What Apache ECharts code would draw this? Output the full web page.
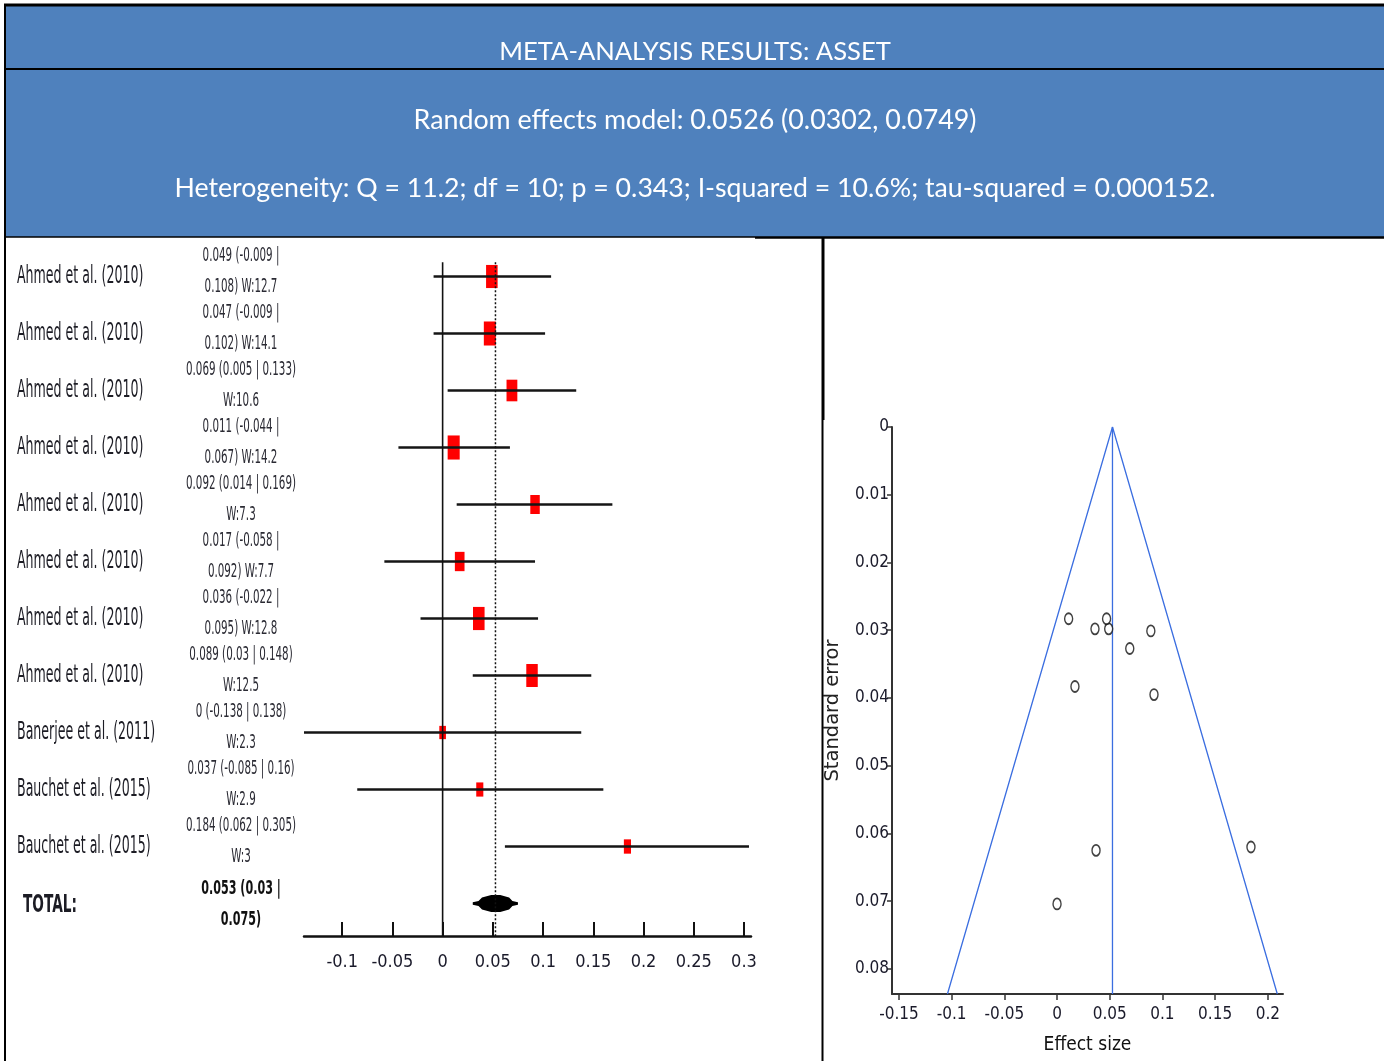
<!DOCTYPE html>
<html>
<head>
<meta charset="utf-8">
<script src="https://cdn.jsdelivr.net/npm/echarts@6/dist/echarts.min.js"></script>
<style>
  html, body { margin: 0; padding: 0; background: #ffffff; }
  #chart { width: 1384px; height: 1061px; }
</style>
</head>
<body>
<div id="chart"></div>
<script>
// ---- Study results (effect size, 95% CI, weight %) ----
const studies = [
  'Ahmed et al. (2010)', 'Ahmed et al. (2010)', 'Ahmed et al. (2010)', 'Ahmed et al. (2010)',
  'Ahmed et al. (2010)', 'Ahmed et al. (2010)', 'Ahmed et al. (2010)', 'Ahmed et al. (2010)',
  'Banerjee et al. (2011)', 'Bauchet et al. (2015)', 'Bauchet et al. (2015)'
];
const effects  = [0.049, 0.047, 0.069, 0.011, 0.092, 0.017, 0.036, 0.089, 0, 0.037, 0.184];
const ciLower  = [-0.009, -0.009, 0.005, -0.044, 0.014, -0.058, -0.022, 0.03, -0.138, -0.085, 0.062];
const ciUpper  = [0.108, 0.102, 0.133, 0.067, 0.169, 0.092, 0.095, 0.148, 0.138, 0.16, 0.305];
const weights  = [12.7, 14.1, 10.6, 14.2, 7.3, 7.7, 12.8, 12.5, 2.3, 2.9, 3];
const stdErrors = [0.0298, 0.0283, 0.0327, 0.0283, 0.0395, 0.0383, 0.0298, 0.0301, 0.0704, 0.0625, 0.0620];

// ---- Pooled (random effects) result ----
const totalLabel = 'TOTAL:';
const totalEffect = 0.053;
const totalLower = 0.03;
const totalUpper = 0.075;
const pooledEffect = 0.0526;

// ---- Funnel outline (effect size, standard error) ----
const funnelEdgeEffects = [-0.104, 0.0526, 0.209];
const funnelEdgeSE = [0.0837, 0, 0.0837];

// ---- Axis ticks ----
const forestTicks = [-0.1, -0.05, 0, 0.05, 0.1, 0.15, 0.2, 0.25, 0.3];
const funnelXTicks = [-0.15, -0.1, -0.05, 0, 0.05, 0.1, 0.15, 0.2];
const funnelYTicks = [0, 0.01, 0.02, 0.03, 0.04, 0.05, 0.06, 0.07, 0.08];

// ---- Header texts ----
const headerTitle = 'META-ANALYSIS RESULTS: ASSET';
const modelText = 'Random effects model: 0.0526 (0.0302, 0.0749)';
const heterogeneityText = 'Heterogeneity: Q = 11.2; df = 10; p = 0.343; I-squared = 10.6%; tau-squared = 0.000152.';

const NARROW = '"DejaVu Sans Condensed", "Liberation Sans Narrow", sans-serif';
const HEADER_FONT = 'Lato, "Open Sans", sans-serif';
const BLUE = '#4f81bd';

// CI text, wrapped the way the plotting tool wraps it
function ciText(es, lo, hi, w) {
  if (w == null) return es + ' (' + lo + ' |\n' + hi + ')';
  const head = es + ' (' + lo + ' | ' + hi + ')';
  return head.length > 21 ? (es + ' (' + lo + ' |\n' + hi + ') W:' + w) : (head + '\nW:' + w);
}

const rowCount = studies.length;           // total row sits after the studies
const rowTop = -0.25, rowBottom = 11.57;

const chart = echarts.init(document.getElementById('chart'), null, { renderer: 'canvas' });

const option = {
  animation: false,
  backgroundColor: '#ffffff',
  graphic: [
    // header band
    { type: 'rect', shape: { x: 5, y: 5, width: 1379, height: 232 }, style: { fill: BLUE } },
    { type: 'line', shape: { x1: 4, y1: 5, x2: 1384, y2: 5 }, style: { stroke: '#000', lineWidth: 3 } },
    { type: 'line', shape: { x1: 5, y1: 69, x2: 1384, y2: 69 }, style: { stroke: '#000', lineWidth: 2 } },
    { type: 'line', shape: { x1: 5, y1: 237, x2: 755, y2: 237 }, style: { stroke: '#000', lineWidth: 1.5 } },
    { type: 'line', shape: { x1: 755, y1: 237.5, x2: 1384, y2: 237.5 }, style: { stroke: '#000', lineWidth: 2.5 } },
    { type: 'line', shape: { x1: 5, y1: 4, x2: 5, y2: 1061 }, style: { stroke: '#000', lineWidth: 2 } },
    { type: 'line', shape: { x1: 823, y1: 237, x2: 823, y2: 420 }, style: { stroke: '#000', lineWidth: 3 } },
    { type: 'line', shape: { x1: 822.5, y1: 420, x2: 822.5, y2: 1061 }, style: { stroke: '#000', lineWidth: 2 } },
    { type: 'text', x: 695, y: 52,
      style: { text: headerTitle, fill: '#fff', font: '25.6px ' + HEADER_FONT, align: 'center', verticalAlign: 'middle' } },
    { type: 'text', x: 695, y: 120,
      style: { text: modelText, fill: '#fff', font: '26.8px ' + HEADER_FONT, align: 'center', verticalAlign: 'middle' } },
    { type: 'text', x: 695, y: 188,
      style: { text: heterogeneityText, fill: '#fff', font: '26.7px ' + HEADER_FONT, align: 'center', verticalAlign: 'middle' } }
  ],
  grid: [
    { left: 304, top: 248, width: 447, height: 688 },
    { left: 892, top: 427, width: 391, height: 567 }
  ],
  xAxis: [
    {
      type: 'value', gridIndex: 0, min: -0.138, max: 0.307,
      axisLine: { show: true, onZero: false, lineStyle: { color: '#111', width: 2.5 } },
      axisTick: { show: true, inside: true, length: 14, customValues: forestTicks, lineStyle: { color: '#111', width: 2 } },
      axisLabel: { customValues: forestTicks, margin: 17, color: '#1a1a2a', fontFamily: NARROW, fontSize: 18 },
      splitLine: { show: false }
    },
    {
      type: 'value', gridIndex: 1, min: -0.1566, max: 0.2144,
      name: 'Effect size', nameLocation: 'middle', nameGap: 42,
      nameTextStyle: { color: '#111', fontFamily: NARROW, fontSize: 19 },
      axisLine: { show: true, onZero: false, lineStyle: { color: '#333', width: 2 } },
      axisTick: { show: true, length: 6, customValues: funnelXTicks, lineStyle: { color: '#333', width: 1.5 } },
      axisLabel: { customValues: funnelXTicks, margin: 12, color: '#1a1a2a', fontFamily: NARROW, fontSize: 17 },
      splitLine: { show: false }
    }
  ],
  yAxis: [
    { type: 'value', gridIndex: 0, inverse: true, min: -0.5, max: rowBottom, show: false },
    {
      type: 'value', gridIndex: 1, inverse: true, min: 0, max: 0.0837,
      name: 'Standard error', nameLocation: 'middle', nameGap: 49, nameRotate: 90,
      nameTextStyle: { color: '#222', fontFamily: '"DejaVu Sans", sans-serif', fontSize: 19.5 },
      axisLine: { show: true, onZero: false, lineStyle: { color: '#333', width: 2 } },
      axisTick: { show: true, length: 5, customValues: funnelYTicks, lineStyle: { color: '#333', width: 1.5 } },
      axisLabel: { customValues: funnelYTicks, margin: 3, color: '#1a1a2a', fontFamily: NARROW, fontSize: 17 },
      splitLine: { show: false }
    }
  ],
  series: [
    // weight boxes
    {
      type: 'custom', xAxisIndex: 0, yAxisIndex: 0, z: 2,
      data: effects.map((e, i) => [e, i, weights[i]]),
      encode: { x: 0, y: 1 },
      renderItem: (params, api) => {
        const c = api.coord([api.value(0), api.value(1)]);
        const w = api.value(2);
        const bw = 3 + Math.sqrt(w) * 2.4;
        const bh = 6 + Math.sqrt(w) * 4.8;
        return { type: 'rect', shape: { x: c[0] - bw / 2, y: c[1] - bh / 2, width: bw, height: bh },
                 style: { fill: '#ff0000' } };
      }
    },
    // confidence intervals
    {
      type: 'custom', xAxisIndex: 0, yAxisIndex: 0, z: 3,
      data: effects.map((e, i) => [ciLower[i], ciUpper[i], i]),
      encode: { x: [0, 1], y: 2 },
      renderItem: (params, api) => {
        const a = api.coord([api.value(0), api.value(2)]);
        const b = api.coord([api.value(1), api.value(2)]);
        return { type: 'line', shape: { x1: a[0], y1: a[1], x2: b[0], y2: b[1] },
                 style: { stroke: '#151515', lineWidth: 2.5 } };
      }
    },
    // pooled diamond
    {
      type: 'custom', xAxisIndex: 0, yAxisIndex: 0, z: 3,
      data: [[totalLower, totalEffect, totalUpper, rowCount]],
      encode: { x: [0, 2], y: 3 },
      renderItem: (params, api) => {
        const lo = api.coord([api.value(0), api.value(3)]);
        const mid = api.coord([api.value(1), api.value(3)]);
        const hi = api.coord([api.value(2), api.value(3)]);
        const y = mid[1], L = mid[0] - lo[0], R = hi[0] - mid[0];
        const top = [
          [lo[0], y - 1.2], [lo[0] + 0.25 * L, y - 2.5], [lo[0] + 0.4 * L, y - 6],
          [mid[0] - 0.2 * L, y - 8.5], [mid[0] + 0.2 * R, y - 8.5],
          [mid[0] + 0.6 * R, y - 6], [mid[0] + 0.75 * R, y - 2.5], [hi[0], y - 1.2]
        ];
        const pts = top.concat(top.slice().reverse().map(p => [p[0], 2 * y - p[1]]));
        return { type: 'polygon', shape: { points: pts }, style: { fill: '#000' } };
      }
    },
    // line of no effect
    {
      type: 'line', xAxisIndex: 0, yAxisIndex: 0, z: 4, symbol: 'none', silent: true,
      data: [[0, rowTop], [0, rowBottom]],
      lineStyle: { color: '#111', width: 1.6 }
    },
    // pooled estimate (dotted)
    {
      type: 'line', xAxisIndex: 0, yAxisIndex: 0, z: 4, symbol: 'none', silent: true,
      data: [[pooledEffect, rowTop], [pooledEffect, rowBottom]],
      lineStyle: { color: '#111', width: 1.5, type: [2, 2] }
    },
    // study names
    {
      type: 'custom', xAxisIndex: 0, yAxisIndex: 0, z: 5,
      data: studies.map((s, i) => [0, i]).concat([[0, rowCount]]),
      encode: { x: 0, y: 1 },
      renderItem: (params, api) => {
        const i = params.dataIndex;
        const isTotal = i === rowCount;
        const y = api.coord([0, api.value(1)])[1] + (isTotal ? 2 : 0);
        return {
          type: 'text', x: isTotal ? 23 : 17, y: y, scaleX: isTotal ? 0.87 : 0.8, scaleY: 1.4,
          style: {
            text: isTotal ? totalLabel : studies[i],
            font: (isTotal ? 'bold ' : '') + '17.5px ' + NARROW,
            fill: '#1c1c24', align: 'left', verticalAlign: 'middle'
          }
        };
      }
    },
    // CI / weight texts
    {
      type: 'custom', xAxisIndex: 0, yAxisIndex: 0, z: 5,
      data: studies.map((s, i) => [0, i]).concat([[0, rowCount]]),
      encode: { x: 0, y: 1 },
      renderItem: (params, api) => {
        const i = params.dataIndex;
        const isTotal = i === rowCount;
        const y = api.coord([0, api.value(1)])[1] + (isTotal ? 1 : -5);
        const txt = isTotal ? ciText(totalEffect, totalLower, totalUpper)
                            : ciText(effects[i], ciLower[i], ciUpper[i], weights[i]);
        return {
          type: 'text', x: 241, y: y, scaleX: isTotal ? 0.8 : 0.74, scaleY: 1.3,
          style: {
            text: txt, font: (isTotal ? 'bold 15.5px ' : '15.5px ') + NARROW,
            lineHeight: 23.5,
            fill: isTotal ? '#111' : '#2a2a33', align: 'center', verticalAlign: 'middle'
          }
        };
      }
    },
    // funnel outline
    {
      type: 'line', xAxisIndex: 1, yAxisIndex: 1, symbol: 'none', silent: true,
      data: funnelEdgeEffects.map((e, i) => [e, funnelEdgeSE[i]]),
      lineStyle: { color: '#3b6ee0', width: 1.3 }
    },
    {
      type: 'line', xAxisIndex: 1, yAxisIndex: 1, symbol: 'none', silent: true,
      data: [[pooledEffect, 0], [pooledEffect, 0.0837]],
      lineStyle: { color: '#3b6ee0', width: 1.3 }
    },
    // studies in the funnel
    {
      type: 'scatter', xAxisIndex: 1, yAxisIndex: 1, z: 5,
      data: effects.map((e, i) => [e, stdErrors[i]]),
      symbol: 'circle', symbolSize: [8, 11],
      itemStyle: { color: '#ffffff', borderColor: '#111', borderWidth: 1.6 }
    }
  ]
};

chart.setOption(option);
</script>
</body>
</html>
